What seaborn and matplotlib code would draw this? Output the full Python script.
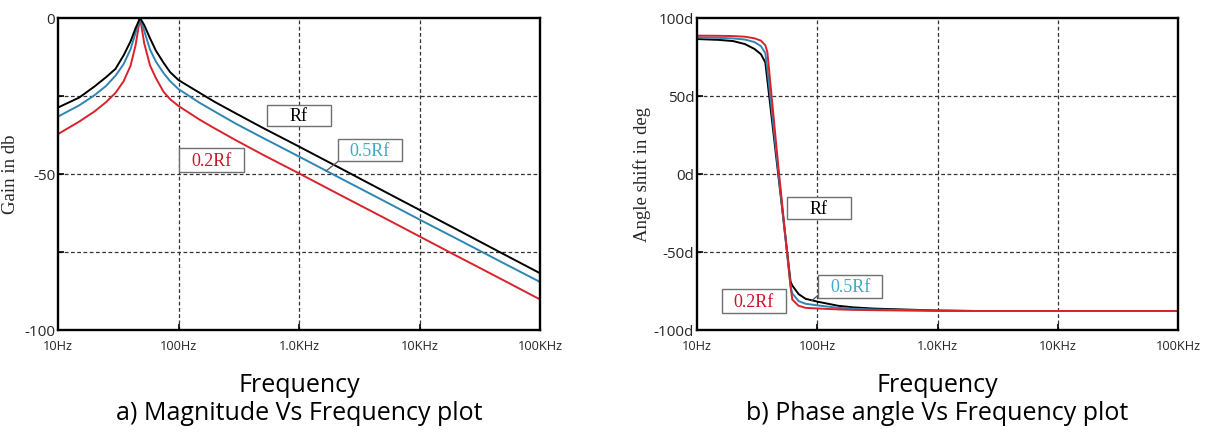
import numpy as np
import pandas as pd
import matplotlib
matplotlib.use("Agg")
import matplotlib.pyplot as plt
import seaborn as sns
from matplotlib.patches import Rectangle
from matplotlib.ticker import FixedLocator, FixedFormatter, NullLocator

# ---------------- data ----------------
series = ["Rf", "0.5Rf", "0.2Rf"]

freq_gain = [10, 15, 20, 25, 30, 35, 40, 44, 48, 52, 58, 65, 75, 85, 100,
             150, 200, 300, 500, 1000, 2000, 5000, 10000, 20000, 50000, 100000]
gain_rf = [-28.7, -25.5, -22.0, -19.0, -16.3, -12.0, -7.5, -3.3, 0.0, -2.3, -6.5,
           -10.5, -14.3, -17.3, -19.9, -24.0, -26.9, -30.6, -35.2, -41.2, -47.3,
           -55.4, -61.5, -67.6, -75.7, -81.8]
gain_05rf = [-31.6, -28.0, -24.8, -21.8, -18.5, -14.8, -10.0, -4.8, 0.0, -4.2, -10.1,
             -14.0, -17.6, -20.2, -22.8, -27.2, -30.0, -33.9, -38.4, -44.4, -50.5,
             -58.5, -64.6, -70.6, -78.6, -84.6]
gain_02rf = [-37.2, -33.2, -30.0, -27.0, -24.0, -20.3, -15.3, -8.8, 0.0, -8.2, -15.2,
             -19.3, -23.6, -26.0, -28.2, -32.6, -35.4, -39.2, -43.8, -49.8, -55.9,
             -63.9, -70.0, -76.1, -84.1, -90.2]

freq_phase = [10, 15, 20, 25, 30, 34, 37, 38.5, 48, 60, 62, 70, 80, 100,
              150, 200, 300, 500, 1000, 2000, 10000, 100000]
phase_rf = [86.5, 86.0, 85.2, 83.3, 80.2, 76.8, 71.5, 59.9, -4.1, -69.0, -71.5,
            -77.0, -80.0, -81.8, -84.5, -85.5, -86.3, -86.8, -87.5, -87.8, -87.8, -87.8]
phase_05rf = [87.6, 87.3, 86.9, 86.2, 84.6, 82.0, 77.5, 67.0, -2.0, -72.0, -76.5,
              -81.5, -83.2, -84.2, -85.8, -86.4, -86.9, -87.2, -87.6, -87.8, -87.8, -87.8]
phase_02rf = [88.7, 88.6, 88.4, 88.0, 87.0, 85.5, 82.5, 78.0, 1.0, -72.0, -80.5,
              -84.5, -85.8, -86.2, -86.8, -87.1, -87.3, -87.5, -87.7, -87.8, -87.8, -87.8]

x_ticks = [10, 100, 1000, 10000, 100000]
x_tick_labels = ["10Hz", "100Hz", "1.0KHz", "10KHz", "100KHz"]
gain_ticks = [0, -25, -50, -75, -100]
gain_tick_labels = ["0", "", "-50", "", "-100"]
phase_ticks = [100, 50, 0, -50, -100]
phase_tick_labels = ["100d", "50d", "0d", "-50d", "-100d"]

colors = {"Rf": "#000000", "0.5Rf": "#2f86b2", "0.2Rf": "#d9232b"}
text_colors = {"Rf": "#000000", "0.5Rf": "#3fa9c6", "0.2Rf": "#c8162a"}

gain_df = pd.concat([
    pd.DataFrame({"freq": freq_gain, "val": v, "series": s})
    for s, v in zip(series, [gain_rf, gain_05rf, gain_02rf])
], ignore_index=True)
phase_df = pd.concat([
    pd.DataFrame({"freq": freq_phase, "val": v, "series": s})
    for s, v in zip(series, [phase_rf, phase_05rf, phase_02rf])
], ignore_index=True)

# ---------------- figure ----------------
sns.set_theme(style="white")
plt.rcParams["font.family"] = ["DejaVu Sans"]

W, H = 1209, 434
fig = plt.figure(figsize=(W / 100, H / 100), dpi=100)

def px_axes(x0, x1, ytop, ybot):
    return fig.add_axes([x0 / W, (H - ybot) / H, (x1 - x0) / W, (ybot - ytop) / H])

ax1 = px_axes(58, 540, 18, 330)
ax2 = px_axes(697, 1178, 18, 330)

sns.lineplot(data=gain_df, x="freq", y="val", hue="series", hue_order=["0.2Rf", "0.5Rf", "Rf"],
             palette=colors, sort=False, estimator=None, linewidth=1.4, legend=False, ax=ax1)
sns.lineplot(data=phase_df, x="freq", y="val", hue="series", hue_order=["Rf", "0.5Rf", "0.2Rf"],
             palette=colors, sort=False, estimator=None, linewidth=1.4, legend=False, ax=ax2)

tick_font = "Open Sans"

def style_axes(ax, yticks, ylabels, ylim, ygrid, ylabel, lpad):
    ax.set_xscale("log")
    ax.set_xlim(10, 100000)
    ax.set_ylim(*ylim)
    ax.xaxis.set_major_locator(FixedLocator(x_ticks))
    ax.xaxis.set_major_formatter(FixedFormatter(x_tick_labels))
    ax.xaxis.set_minor_locator(NullLocator())
    ax.yaxis.set_major_locator(FixedLocator(yticks))
    ax.yaxis.set_major_formatter(FixedFormatter(ylabels))
    ax.set_xlabel("")
    ax.set_ylabel(ylabel, fontsize=13.5, family="Liberation Serif", labelpad=lpad)
    for sp in ax.spines.values():
        sp.set_visible(True)
        sp.set_color("black")
        sp.set_linewidth(1.7)
    ax.tick_params(axis="both", direction="in", length=4, width=1.2, color="black",
                   left=True, bottom=True)
    ax.tick_params(axis="x", labelsize=9.2, pad=7)
    ax.tick_params(axis="y", labelsize=11, pad=2)
    for lab in ax.get_xticklabels() + ax.get_yticklabels():
        lab.set_family(tick_font)
    for xv in x_ticks[1:-1]:
        ax.axvline(xv, color="#333333", lw=0.9, ls=(0, (3, 2)), zorder=0.5)
    for yv in ygrid:
        ax.axhline(yv, color="#333333", lw=0.9, ls=(0, (3, 2)), zorder=0.5)
    ax.grid(False)

style_axes(ax1, gain_ticks, gain_tick_labels, (-100, 0), [-25, -50, -75], "Gain in db", 4)
style_axes(ax2, phase_ticks, phase_tick_labels, (-100, 100), [50, 0, -50], "Angle shift in deg", 2)

def label_box(ax, name, fx0, fx1, fy0, fy1):
    ax.add_patch(Rectangle((fx0, fy0), fx1 - fx0, fy1 - fy0, transform=ax.transAxes,
                           facecolor="white", edgecolor="#707070", lw=1.0, zorder=5))
    ax.text((fx0 + fx1) / 2, (fy0 + fy1) / 2 - 0.004, name, transform=ax.transAxes,
            ha="center", va="center", fontsize=13, family="Liberation Serif",
            color=text_colors[name], zorder=6)

# magnitude plot labels
label_box(ax1, "Rf", 0.4330, 0.5664, 0.6538, 0.7212)
label_box(ax1, "0.5Rf", 0.5803, 0.7130, 0.5417, 0.6112)
label_box(ax1, "0.2Rf", 0.2517, 0.3866, 0.5064, 0.5824)
ax1.plot([0.585, 0.556], [0.545, 0.5096], transform=ax1.transAxes, color="#555555", lw=0.9, zorder=4)

# phase plot labels
label_box(ax2, "Rf", 0.1877, 0.3196, 0.3548, 0.4272)
label_box(ax2, "0.5Rf", 0.2522, 0.3852, 0.1035, 0.1763)
label_box(ax2, "0.2Rf", 0.0513, 0.1850, 0.0554, 0.1304)
ax2.plot([0.2522, 0.2385], [0.1122, 0.0939], transform=ax2.transAxes, color="#555555", lw=0.9, zorder=4)

cap_font = "Open Sans"
for cx, sub in [(299, "a) Magnitude Vs Frequency plot"), (937, "b) Phase angle Vs Frequency plot")]:
    fig.text(cx / W, (H - 386) / H, "Frequency", ha="center", va="center",
             fontsize=18, family=cap_font, color="black")
    fig.text(cx / W, (H - 414) / H, sub, ha="center", va="center",
             fontsize=18, family=cap_font, color="black")

fig.savefig("out.png", dpi=100, facecolor="white")
